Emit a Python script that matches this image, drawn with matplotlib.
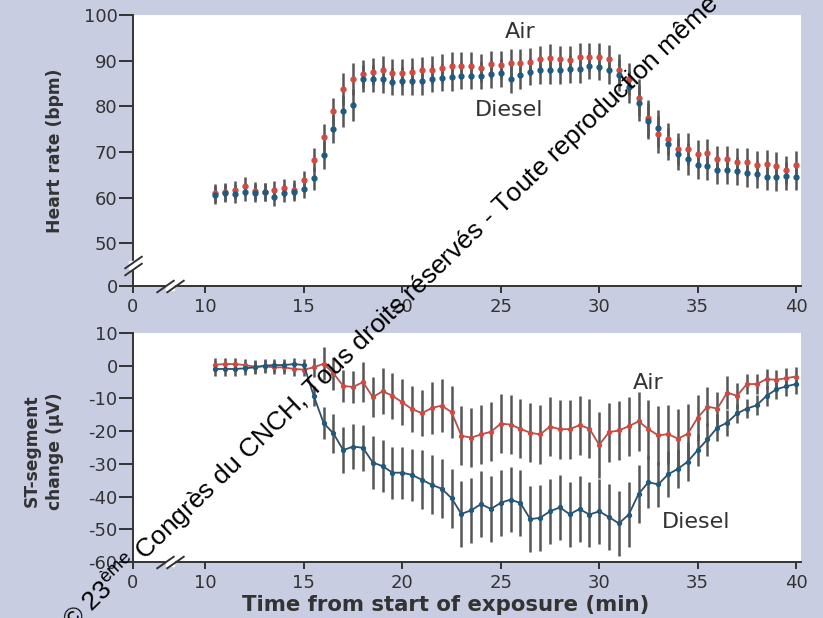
import numpy as np
import matplotlib
matplotlib.use('Agg')
import matplotlib.pyplot as plt

plt.rcParams['font.family'] = ['DejaVu Sans']
plt.rcParams['mathtext.fontset'] = 'custom'
plt.rcParams['mathtext.rm'] = 'Liberation Sans'

# temps (min), un point toutes les 30 s
time = np.arange(10.5, 40.01, 0.5)

# fréquence cardiaque (bpm)
hr_air = [61.0, 61.3, 61.7, 62.6, 61.5, 61.3, 61.6, 62.1, 61.8, 63.9,
          68.3, 73.2, 78.9, 83.7, 86.0, 87.1, 87.6, 88.0, 87.4, 87.4,
          87.6, 87.9, 88.0, 88.4, 88.9, 88.9, 88.9, 88.4, 89.2, 89.1,
          89.5, 89.6, 89.8, 90.3, 90.6, 90.3, 90.2, 90.9, 90.8, 90.8,
          90.4, 88.0, 86.0, 81.9, 77.4, 73.9, 72.9, 70.7, 70.7, 69.6,
          69.9, 68.4, 68.4, 67.9, 67.8, 67.2, 67.5, 67.0, 66.1, 67.2]
hr_diesel = [60.6, 61.0, 60.9, 61.3, 61.1, 61.2, 60.2, 61.0, 61.2, 61.9,
             64.3, 69.4, 75.1, 79.0, 80.2, 86.1, 86.1, 85.9, 85.4, 85.6,
             85.6, 85.6, 86.1, 86.3, 86.4, 86.7, 86.7, 86.7, 87.1, 87.3,
             86.0, 86.9, 87.6, 88.0, 88.0, 87.9, 88.2, 88.1, 88.9, 88.7,
             88.0, 86.8, 84.2, 80.7, 76.8, 75.2, 71.7, 69.5, 68.5, 67.2,
             66.9, 66.1, 66.0, 65.9, 65.4, 65.1, 64.6, 64.5, 64.8, 64.6]
hr_err = [2.0, 2.0, 2.0, 2.0, 2.0, 2.0, 2.0, 2.0, 2.0, 2.0,
          2.5, 3.0, 3.0, 3.5, 3.5, 3.0, 3.0, 3.0, 3.0, 3.0,
          3.0, 3.0, 3.0, 3.0, 3.0, 3.0, 3.0, 3.0, 3.0, 3.0,
          3.0, 3.0, 3.0, 3.0, 3.0, 3.0, 3.0, 3.0, 3.0, 3.0,
          3.0, 3.5, 3.5, 4.0, 4.0, 4.0, 3.5, 3.5, 3.5, 3.0,
          3.0, 3.0, 3.0, 3.0, 3.0, 3.0, 3.0, 3.0, 3.0, 3.0]

# variation du segment ST (µV)
st_air = [0.3, 0.5, 0.5, 0.2, -0.3, -0.2, -0.5, -0.5, -1.0, -1.2,
          -0.5, 0.6, -2.3, -6.2, -6.5, -5.0, -9.6, -7.8, -9.2, -11.2,
          -13.3, -14.5, -12.9, -12.2, -14.2, -21.4, -22.0, -21.0, -20.2, -17.7,
          -18.0, -19.3, -20.5, -21.0, -18.6, -19.4, -19.4, -18.2, -19.2, -24.2,
          -20.3, -19.8, -18.5, -17.0, -19.4, -21.3, -20.9, -22.3, -20.8, -15.9,
          -12.5, -13.1, -8.2, -9.2, -5.6, -5.6, -4.1, -4.3, -3.8, -3.3]
st_diesel = [-1.0, -1.0, -1.0, -0.8, -0.5, 0.0, 0.2, 0.2, 0.5, 0.2,
             -9.2, -17.5, -20.7, -25.8, -24.7, -25.1, -29.6, -30.7, -32.7, -32.7,
             -33.4, -34.9, -36.4, -37.6, -40.5, -45.3, -44.2, -42.3, -43.8, -41.9,
             -40.9, -42.0, -46.9, -46.5, -44.5, -43.3, -45.4, -43.8, -45.5, -44.5,
             -46.3, -48.2, -45.5, -39.2, -35.6, -36.3, -33.2, -31.5, -29.3, -25.8,
             -22.5, -18.9, -17.4, -14.6, -13.1, -12.1, -9.2, -7.2, -6.3, -5.6]
st_air_err = [2, 2, 2, 2, 2, 2, 2, 2, 2, 2,
              3, 5, 5, 5, 5, 6, 6, 7, 7, 7,
              7, 7, 8, 8, 8, 9, 9, 9, 9, 9,
              9, 9, 9, 9, 9, 9, 9, 9, 9, 10,
              9, 9, 9, 9, 9, 9, 9, 9, 9, 7,
              6, 5, 5, 4, 3, 3, 3, 3, 3, 3]
st_diesel_err = [2, 2, 2, 2, 2, 2, 2, 2, 2, 2,
                 3, 5, 6, 7, 7, 7, 8, 8, 8, 8,
                 8, 9, 9, 9, 9, 10, 10, 10, 10, 10,
                 10, 10, 10, 10, 10, 10, 10, 10, 10, 10,
                 10, 10, 10, 9, 8, 7, 7, 6, 6, 5,
                 5, 4, 4, 3, 3, 3, 3, 3, 3, 3]

# axes coupés : position où l'on place le "0"
x_zero = 6.32
hr_zero = 40.7
x_ticks = [10, 15, 20, 25, 30, 35, 40]
hr_ticks = [50, 60, 70, 80, 90, 100]
st_ticks = [10, 0, -10, -20, -30, -40, -50, -60]

bg = '#c9cde2'
red = '#cf4a40'
blue = '#1f5a80'
grey_bar = '#555555'
ink = '#333333'
tick_fs = 13
lab_fs = 12.3
note_fs = 16

fig = plt.figure(figsize=(8.23, 6.18), dpi=100, facecolor=bg)
ax1 = fig.add_axes([133/823, 1-286/618, 668/823, 271/618])
ax2 = fig.add_axes([133/823, 1-562/618, 668/823, 229/618])


def style_axis(ax):
    for s in ['top', 'right']:
        ax.spines[s].set_visible(False)
    for s in ['left', 'bottom']:
        ax.spines[s].set_color(ink)
        ax.spines[s].set_linewidth(1.4)
    ax.tick_params(axis='y', direction='out', length=10, width=1.4, pad=1,
                   color=ink, labelcolor=ink, labelsize=tick_fs)
    ax.tick_params(axis='x', direction='out', length=5, width=1.4, pad=4,
                   color=ink, labelcolor=ink, labelsize=tick_fs)
    ax.set_xlim(x_zero, 40.25)
    ax.set_xticks([x_zero] + x_ticks)
    ax.set_xticklabels(['0'] + [str(t) for t in x_ticks])


def draw_break(ax, xa, ya, vertical):
    # petites barres obliques "//" sur un axe
    if vertical:
        offs = [(0, -0.012), (0, 0.012)]
    else:
        offs = [(-0.008, 0), (0.008, 0)]
    ax.plot([xa], [ya], marker='s', ms=6, color='white', mec='white',
            transform=ax.transAxes, clip_on=False, zorder=6)
    for dx, dy in offs:
        ax.plot([xa + dx], [ya + dy], marker=[(-1, -0.7), (1, 0.7)], ms=13,
                mew=1.4, color=ink, transform=ax.transAxes, clip_on=False,
                zorder=7)


# panneau du haut : fréquence cardiaque
style_axis(ax1)
ax1.set_ylim(hr_zero, 100)
ax1.set_yticks([hr_zero] + hr_ticks)
ax1.set_yticklabels(['0'] + [str(t) for t in hr_ticks])
ax1.errorbar(time, hr_air, yerr=hr_err, fmt='none', ecolor=grey_bar,
             elinewidth=1.8, capsize=0, zorder=2)
ax1.errorbar(time, hr_diesel, yerr=hr_err, fmt='none', ecolor=grey_bar,
             elinewidth=1.8, capsize=0, zorder=2)
ax1.plot(time, hr_air, 'o', color=red, ms=3.5, zorder=3)
ax1.plot(time, hr_diesel, 'o', color=blue, ms=3.5, zorder=4)
ax1.text(26.0, 96.3, 'Air', fontsize=note_fs, color=ink, ha='center', va='center')
ax1.text(25.4, 79.2, 'Diesel', fontsize=note_fs, color=ink, ha='center', va='center')
ax1.set_ylabel('Heart rate (bpm)', fontsize=lab_fs, fontweight='bold', color=ink)
ax1.yaxis.set_label_coords(-0.103, 0.5)
draw_break(ax1, 0, (45.2 - hr_zero) / (100 - hr_zero), True)
draw_break(ax1, (8.2 - x_zero) / (40.25 - x_zero), 0, False)

# panneau du bas : segment ST
style_axis(ax2)
ax2.set_ylim(-60, 10)
ax2.set_yticks(st_ticks)
ax2.set_yticklabels([str(t) for t in st_ticks])
ax2.errorbar(time, st_air, yerr=st_air_err, fmt='none', ecolor=grey_bar,
             elinewidth=1.8, capsize=0, zorder=2)
ax2.errorbar(time, st_diesel, yerr=st_diesel_err, fmt='none', ecolor=grey_bar,
             elinewidth=1.8, capsize=0, zorder=2)
ax2.plot(time, st_air, '-o', color='#b5504a', mfc=red, mec=red, ms=2.8,
         lw=1.3, zorder=3)
ax2.plot(time, st_diesel, '-o', color='#2f4f68', mfc=blue, mec=blue, ms=2.8,
         lw=1.3, zorder=4)
ax2.text(32.5, -5.3, 'Air', fontsize=note_fs, color=ink, ha='center', va='center')
ax2.text(34.9, -47.9, 'Diesel', fontsize=note_fs, color=ink, ha='center', va='center')
ax2.set_ylabel('ST-segment\nchange (µV)', fontsize=lab_fs, fontweight='bold',
               color=ink, linespacing=1.35)
ax2.yaxis.set_label_coords(-0.104, 0.485)
draw_break(ax2, (8.2 - x_zero) / (40.25 - x_zero), 0, False)

fig.text(446/823, 1-605/618, 'Time from start of exposure (min)', fontsize=15.3,
         fontweight='bold', color=ink, ha='center', va='center')

# filigrane
fig.text(67/823, 1-624/618,
         r'© 23$^{\mathrm{ème}}$ Congrès du CNCH, Tous droits réservés - Toute reproduction même',
         family='Liberation Sans', fontsize=19, color='black', rotation=44,
         rotation_mode='anchor', ha='left', va='center', zorder=10)

fig.savefig('out.png', dpi=100, facecolor=bg)
